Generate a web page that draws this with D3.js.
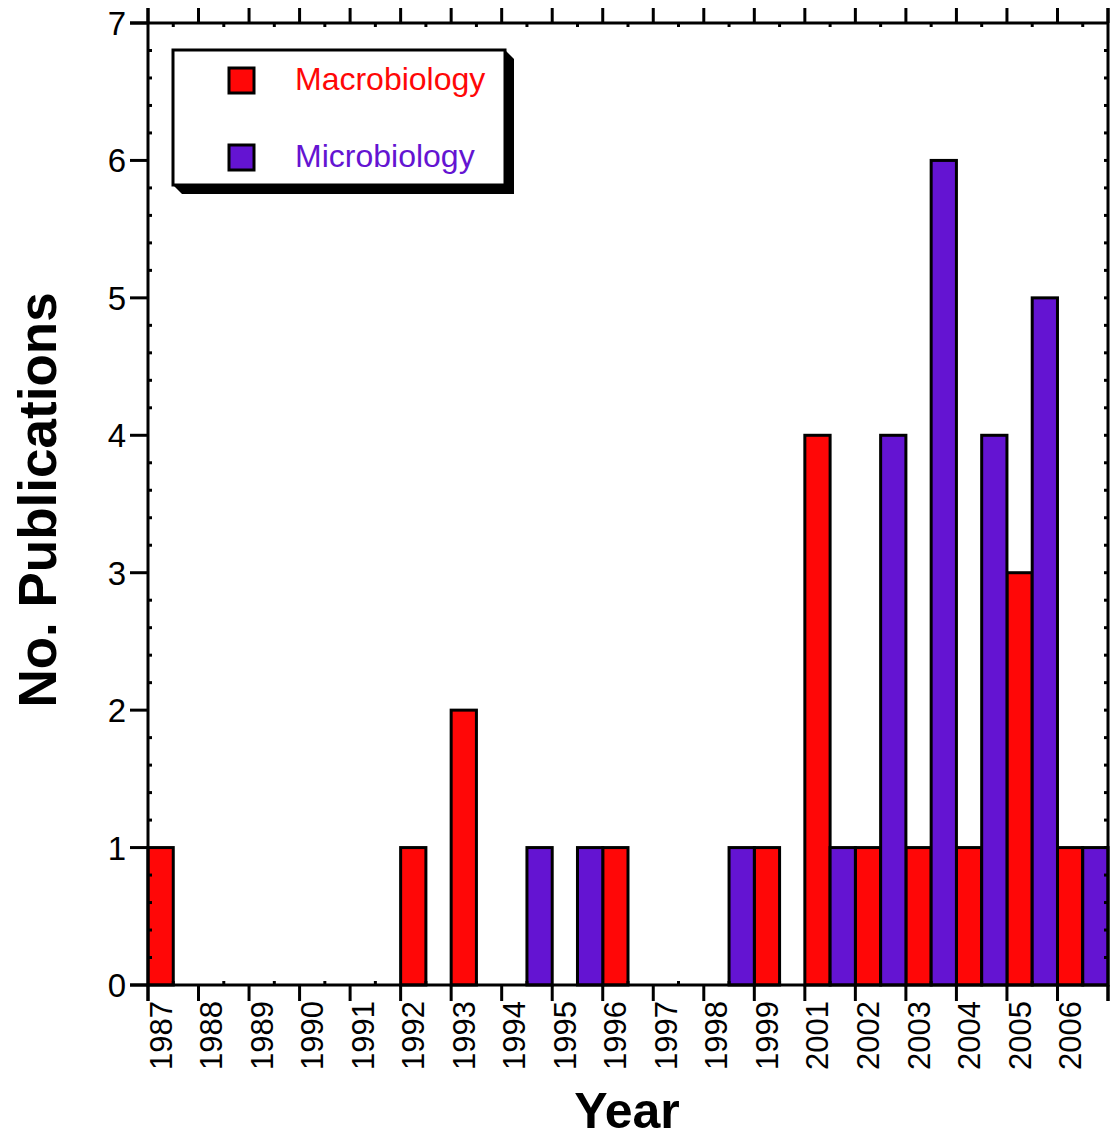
<!DOCTYPE html>
<html><head><meta charset="utf-8">
<script src="https://cdn.jsdelivr.net/npm/d3@7"></script>
<style>body{margin:0;background:#fff;} svg{display:block;font-family:"Liberation Sans",Arial,sans-serif;}</style>
</head><body>
<svg id="c" width="1110" height="1142"></svg>
<script>
const years = ["1987","1988","1989","1990","1991","1992","1993","1994","1995","1996","1997","1998","1999","2001","2002","2003","2004","2005","2006"];
const macro = [1,0,0,0,0,1,2,0,0,1,0,0,1,4,1,1,1,3,1];
const micro = [0,0,0,0,0,0,0,1,1,0,0,1,0,1,4,6,4,5,1];
const yTicks = [0,1,2,3,4,5,6,7];
const seriesNames = ["Macrobiology","Microbiology"];
const colors = ["#ff0707","#6414d2"];

const svg = d3.select("#c");
const L=148, R=1108, T=23, B=985;
const x = d3.scaleBand().domain(years).range([L,R]).padding(0);
const sub = d3.scaleBand().domain([0,1]).range([0,x.bandwidth()]).padding(0);
const y = d3.scaleLinear().domain([0,7]).range([B,T]);
const bw = x.bandwidth();

// bars
const g = svg.append("g");
[macro, micro].forEach((vals,si)=>{
  g.selectAll(null).data(vals.map((v,i)=>({v,yr:years[i]})).filter(d=>d.v>0)).enter()
   .append("rect")
   .attr("x",d=>x(d.yr)+sub(si))
   .attr("width",sub.bandwidth())
   .attr("y",d=>y(d.v))
   .attr("height",d=>y(0)-y(d.v))
   .attr("fill",colors[si]).attr("stroke","#000").attr("stroke-width",3);
});

const minorY = d3.range(0,35).map(i=>i/5).filter(v=>Math.abs(v-Math.round(v))>1e-6);
const allY = d3.range(0,36).map(i=>i/5);
const bounds = years.map(d=>x(d)).concat([R]);
const centers = years.map(d=>x(d)+bw/2);
const ax = svg.append("g").attr("stroke","#000").attr("stroke-width",3).attr("fill","none");

// frame
ax.append("line").attr("x1",L).attr("x2",L).attr("y1",T-15).attr("y2",B+16);
ax.append("line").attr("x1",R).attr("x2",R).attr("y1",T-15).attr("y2",B+16);
ax.append("line").attr("x1",L-18).attr("x2",R).attr("y1",T).attr("y2",T);
ax.append("line").attr("x1",L-18).attr("x2",R).attr("y1",B).attr("y2",B);

// left major ticks
ax.selectAll(null).data(yTicks).enter().append("line")
  .attr("x1",L-18).attr("x2",L).attr("y1",d=>y(d)).attr("y2",d=>y(d));
// left minor inward
ax.selectAll(null).data(minorY).enter().append("line")
  .attr("x1",L).attr("x2",L+4).attr("y1",d=>y(d)).attr("y2",d=>y(d));
// right ticks inward
ax.selectAll(null).data(allY.filter(v=>v>0&&v<7)).enter().append("line")
  .attr("x1",R-4).attr("x2",R).attr("y1",d=>y(d)).attr("y2",d=>y(d));
// top major outward
ax.selectAll(null).data(bounds).enter().append("line")
  .attr("x1",d=>d).attr("x2",d=>d).attr("y1",T-15).attr("y2",T);
// top minor inward
ax.selectAll(null).data(centers).enter().append("line")
  .attr("x1",d=>d).attr("x2",d=>d).attr("y1",T).attr("y2",T+4);
// bottom major outward
ax.selectAll(null).data(bounds).enter().append("line")
  .attr("x1",d=>d).attr("x2",d=>d).attr("y1",B).attr("y2",B+16);
// bottom minor inward
ax.selectAll(null).data(centers).enter().append("line")
  .attr("x1",d=>d).attr("x2",d=>d).attr("y1",B-4).attr("y2",B);

// y tick labels
svg.append("g").selectAll("text").data(yTicks).enter().append("text")
  .attr("x",L-22).attr("y",d=>y(d)+12).attr("text-anchor","end")
  .attr("font-size",33).text(d=>d);

// x labels
svg.append("g").selectAll("text").data(years).enter().append("text")
  .attr("transform",d=>`translate(${x(d)+bw/4+11},${B+16}) rotate(-90)`)
  .attr("text-anchor","end").attr("font-size",31).text(d=>d);

// axis titles
svg.append("text").attr("transform","translate(56,500) rotate(-90)")
  .attr("text-anchor","middle").attr("font-size",53).attr("font-weight","bold").text("No. Publications");
svg.append("text").attr("x",627).attr("y",1128).attr("text-anchor","middle")
  .attr("font-size",50).attr("font-weight","bold").text("Year");

// legend
const lx=173, ly=50, lw=332, lh=135, sh=9;
svg.append("polygon")
  .attr("points",`${lx+lw},${ly} ${lx+lw+sh},${ly+sh} ${lx+lw+sh},${ly+lh+sh} ${lx+sh},${ly+lh+sh} ${lx},${ly+lh}`)
  .attr("fill","#000");
svg.append("rect").attr("x",lx).attr("y",ly).attr("width",lw).attr("height",lh)
  .attr("fill","#fff").attr("stroke","#000").attr("stroke-width",3);
seriesNames.forEach((n,i)=>{
  const cy = 80 + i*77;
  svg.append("rect").attr("x",229).attr("y",cy-12).attr("width",25).attr("height",25)
    .attr("fill",colors[i]).attr("stroke","#000").attr("stroke-width",3);
  svg.append("text").attr("x",295).attr("y",cy+10).attr("font-size",32)
    .attr("fill",colors[i]).text(n);
});
</script>
</body></html>
